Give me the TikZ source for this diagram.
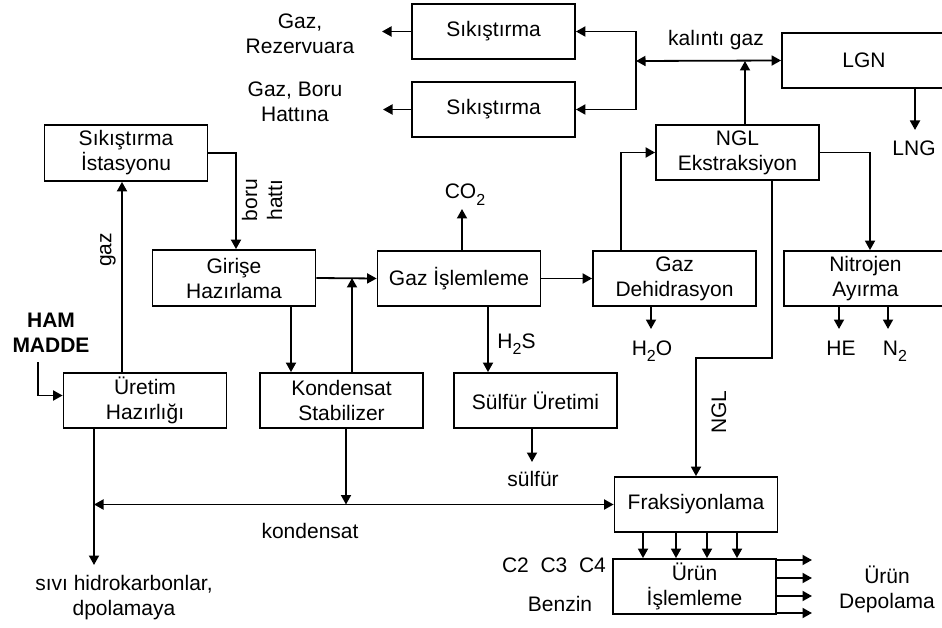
\documentclass[tikz,border=0pt]{standalone}
\usepackage{fontspec}
\setmainfont{Liberation Sans}
\usetikzlibrary{arrows.meta,calc}
\newcommand{\subtwo}{\raisebox{-6.5pt}{\fontsize{16}{16}\selectfont 2}}
\begin{document}
\begin{tikzpicture}[x=1pt,y=-1pt,
  every node/.style={font=\fontsize{21}{25}\selectfont, inner sep=0pt},
  box/.style={draw, line width=1.8pt, minimum width=163pt, minimum height=55pt, align=center},
  lbl/.style={align=center},
  arr/.style={line width=1.8pt, -{Triangle[length=9.5pt,width=10pt]}},
  darr/.style={line width=1.8pt, {Triangle[length=9.5pt,width=10pt]}-{Triangle[length=9.5pt,width=10pt]}}]
\useasboundingbox (0,0) rectangle (942,628);

% boxes
\node[box] (sk1) at (493.5,31.5) {Sıkıştırma};
\node[box] (sk2) at (493.5,109.5) {Sıkıştırma};
\node[box, minimum width=164pt] (lgn) at (864,60.5) {LGN};
\node[box] (ngl) at (737.5,152.5) {NGL\\Ekstraksiyon};
\node[box, minimum height=56pt] (ist) at (126,153) {Sıkıştırma\\İstasyonu};
\node[box, minimum height=56pt] (gir) at (234,278) {Girişe\\Hazırlama};
\node[box] (gaz) at (459,278.5) {Gaz İşlemleme};
\node[box] (deh) at (674.5,278.5) {Gaz\\Dehidrasyon};
\node[box] (nit) at (865.5,278.5) {Nitrojen\\Ayırma};
\node[box] (ure) at (145,400.5) {Üretim\\Hazırlığı};
\node[box] (kon) at (341.5,400.5) {Kondensat\\Stabilizer};
\node[box] (sul) at (535.5,400.5) {Sülfür Üretimi};
\node[box] (fra) at (696,504.5) {Fraksiyonlama};
\node[box] (urn) at (694.5,586.5) {Ürün\\İşlemleme};

% labels
\node[lbl] (tRez) at (300,34) {Gaz,\\Rezervuara};
\node[lbl] (tBoru) at (295,102) {Gaz, Boru\\Hattına};
\node (tKal) at (716,40) {kalıntı gaz};
\node (tLNG) at (914,148) {LNG};
\node[anchor=base] (tCO) at (465,199) {CO\subtwo};
\node[anchor=base] (tH2S) at (516.5,348) {H\subtwo S};
\node[anchor=base] (tH2O) at (652,355) {H\subtwo O};
\node[anchor=base] (tHE) at (841,355) {HE};
\node[anchor=base] (tN2) at (895,355) {N\subtwo};
\node[rotate=90] (tGaz) at (108,250) {gaz};
\node[rotate=90, lbl] (tBH) at (262,200) {boru\\hattı};
\node[lbl, font=\fontsize{21}{25}\selectfont\bfseries] (tHam) at (51,332.5) {HAM\\MADDE};
\node[rotate=90] (tNGL) at (719,412) {NGL};
\node (tSul) at (533,479) {sülfür};
\node (tKon) at (310,531) {kondensat};
\node[lbl] (tSivi) at (124,598) {sıvı hidrokarbonlar,\\dpolamaya};
\node[anchor=base] (tC) at (554,572) {C2\ \ C3\ \ C4};
\node[anchor=base] (tBen) at (560,611) {Benzin};
\node[lbl] (tDep) at (887,589) {Ürün\\Depolama};

% helper coordinates
\coordinate (a1) at (382,31.5);
\coordinate (a2) at (383,109.5);
\coordinate (j1) at (636,61);
\coordinate (kg) at (745,61);
\coordinate (lngTip) at (915,130);
\coordinate (x621) at (621,0);
\coordinate (x870) at (870,0);
\coordinate (nglBend) at (772,358);
\coordinate (x236) at (236,0);
\coordinate (x122) at (122,0);
\coordinate (hamS) at (38,362);
\coordinate (x352) at (352,0);
\coordinate (x291) at (291,0);
\coordinate (co2Tip) at (462,209);
\coordinate (x488) at (488,0);
\coordinate (h2oTip) at (651,329);
\coordinate (heTip) at (839,329);
\coordinate (n2Tip) at (888,329);
\coordinate (kl) at (94,504.5);
\coordinate (sivTip) at (94,565);
\coordinate (x346) at (346,0);
\coordinate (sulTip) at (532,462);

% connectors
\draw[arr] (sk1.west) -- (a1);
\draw[arr] (sk2.west) -- (a2);
\draw[arr] (j1) |- (sk1.east);
\draw[arr] (j1) |- (sk2.east);
\draw[darr] (j1) -- (lgn.west);
\draw[arr] (ngl.north -| kg) -- (kg);
\draw[arr] (lgn.south -| lngTip) -- (lngTip);
\draw[arr] (deh.north -| x621) |- (ngl.west);
\draw[arr] (ngl.east) -| (nit.north -| x870);
\draw[arr] (ngl.south -| nglBend) -- (nglBend) -| (fra.north);
\draw[arr] (ist.east) -| (gir.north -| x236);
\draw[arr] (ure.north -| x122) -- (ist.south -| x122);
\draw[arr] (hamS) |- ($(ure.west)+(0,-5)$);
\draw[arr] (gir.east) -- (gaz.west);
\draw[arr] (kon.north -| x352) -- (x352 |- gir.east);
\draw[arr] (gir.south -| x291) -- (kon.north -| x291);
\draw[arr] (gaz.north -| co2Tip) -- (co2Tip);
\draw[arr] (gaz.east) -- (deh.west);
\draw[arr] (gaz.south -| x488) -- (sul.north -| x488);
\draw[arr] (deh.south -| h2oTip) -- (h2oTip);
\draw[arr] (nit.south -| heTip) -- (heTip);
\draw[arr] (nit.south -| n2Tip) -- (n2Tip);
\draw[arr] (ure.south -| sivTip) -- (sivTip);
\draw[darr] (kl) -- (fra.west);
\draw[arr] (kon.south -| x346) -- (x346 |- kl);
\draw[arr] (sul.south -| sulTip) -- (sulTip);
\foreach \x in {643,676,707,737} {
  \coordinate (fx) at (\x,0);
  \draw[arr] (fra.south -| fx) -- (urn.north -| fx);
}
\foreach \y in {560,578,596,613} {
  \coordinate (uy) at (812,\y);
  \draw[arr] (urn.east |- uy) -- (uy);
}
\end{tikzpicture}
\end{document}
